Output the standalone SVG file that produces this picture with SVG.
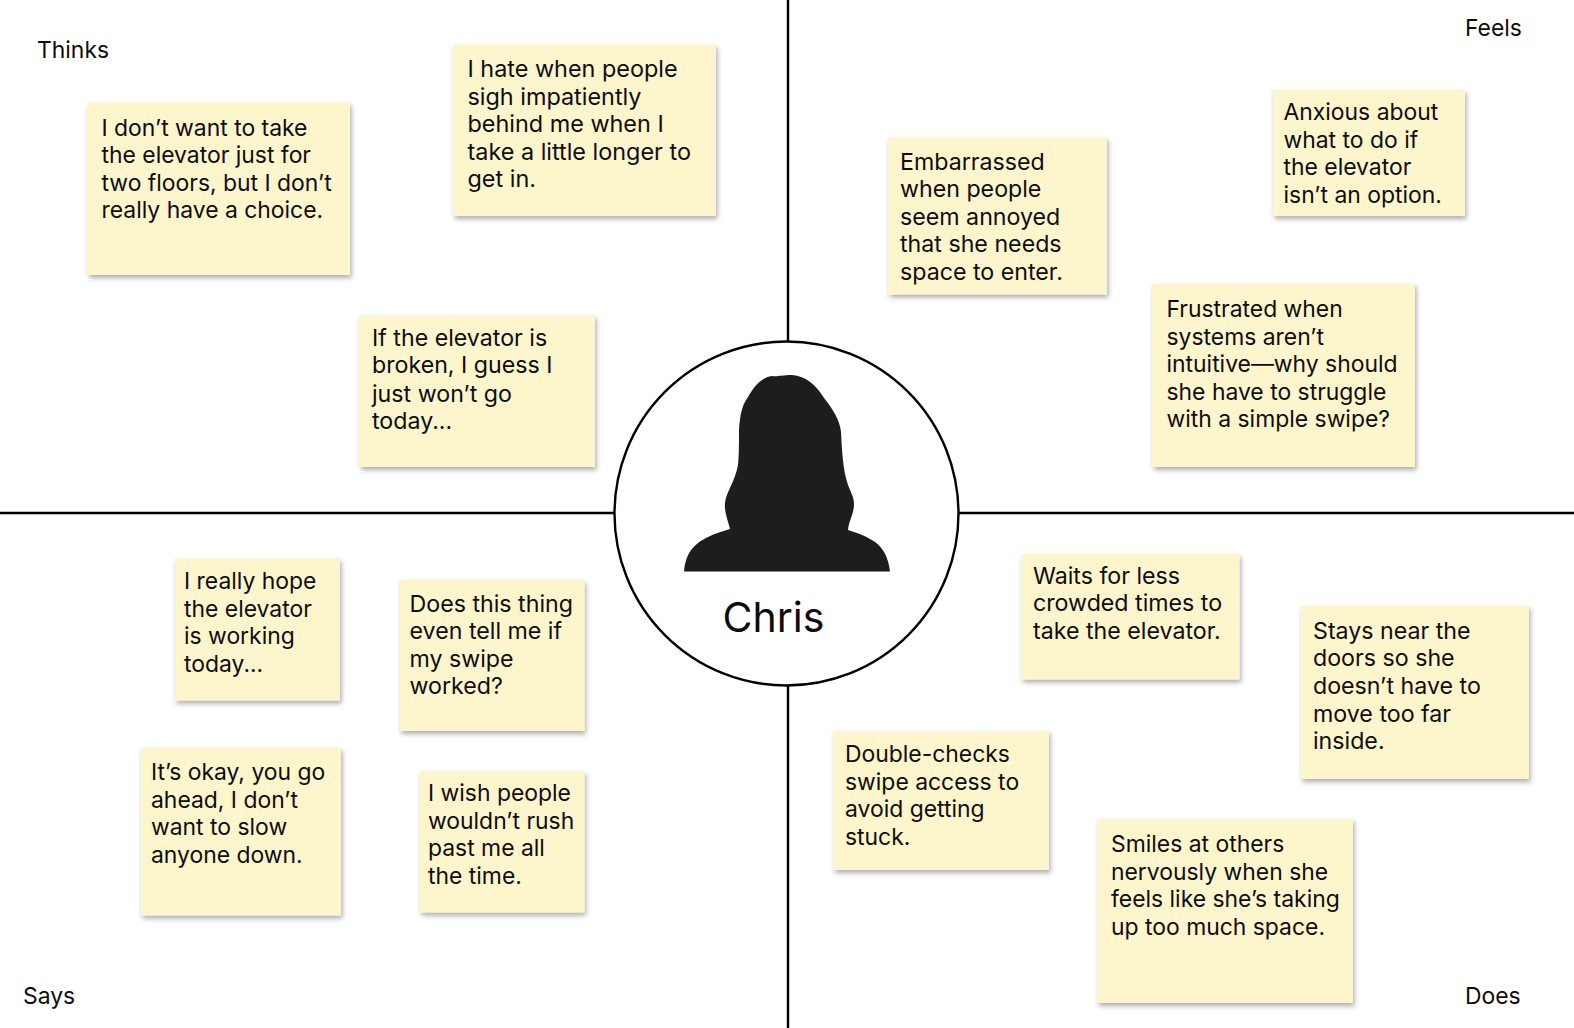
<svg xmlns="http://www.w3.org/2000/svg" width="1574" height="1028" viewBox="0 0 1574 1028">
<style>
text{font-family:Inter,"Liberation Sans",sans-serif;fill:#0d0d0d;font-size:22.9px}
.n{fill:#fdf5cb;filter:url(#s)}
.l{stroke:#000;stroke-width:2.4;fill:none}
.a{font-size:23.4px}
.b{font-size:23.2px}
</style>
<defs><filter id="s" x="-10%" y="-10%" width="125%" height="125%"><feDropShadow dx="1.500" dy="3" stdDeviation="2.500" flood-color="#000" flood-opacity=".32"/></filter></defs>
<rect width="1574" height="1028" fill="#fff"/>
<g id="connectors">
<path class="l" d="M788 0V342M788 685V1028M0 513H614M959 513H1574"/>
</g>
<g id="center">
<circle class="l" cx="786.5" cy="513.5" r="172" fill="#fff"/>
<path fill="#1d1d1b" d="M684 571.500C686 552 694 544 708 537C716 533 724 531 730 529C728 520 724 512 725 503C726 492 735 482 738 465C739 455 739 445 739 430C740 412 743 404 748 397C754 386 762 377 772 376C777 377 781 375 792 375C806 376 816 385 824 398C832 408 840 420 841 432C842 452 843 470 848 485C851 493 854 497 854 504C854 514 849 520 848 530C858 533 868 537 875 542C883 548 888 556 890 571.500Z"/>
<text x="722.500" y="632" style="font-size:41px">Chris</text>
</g>
<g id="labels">
<text x="37" y="58">Thinks</text><text x="1465" y="36">Feels</text><text x="23" y="1003.500">Says</text><text x="1465" y="1003.500">Does</text>
</g>
<g id="n1"><rect class="n" x="87.500" y="102.500" width="262.500" height="172.500"/><text x="101.500" y="135.500">I don’t want to take</text><text x="101.500" y="163">the elevator just for</text><text x="101.500" y="191">two floors, but I don’t</text><text x="101.500" y="218">really have a choice.</text></g>
<g id="n2"><rect class="n" x="453.500" y="44.500" width="262.500" height="171.500"/><text class="a" x="467.500" y="77">I hate when people</text><text class="a" x="467.500" y="104.500">sigh impatiently</text><text class="a" x="467.500" y="132">behind me when I</text><text class="a" x="467.500" y="160">take a little longer to</text><text class="a" x="467.500" y="187">get in.</text></g>
<g id="n3"><rect class="n" x="359.500" y="315" width="235.500" height="152"/><text class="b" x="372" y="345.500">If the elevator is</text><text class="b" x="372" y="373">broken, I guess I</text><text class="b" x="372" y="401.500">just won’t go</text><text class="b" x="372" y="428.500">today...</text></g>
<g id="n4"><rect class="n" x="888.500" y="137.500" width="218.500" height="157"/><text class="b" x="900" y="169.500">Embarrassed</text><text class="b" x="900" y="197">when people</text><text class="b" x="900" y="224.500">seem annoyed</text><text class="b" x="900" y="252">that she needs</text><text class="b" x="900" y="280">space to enter.</text></g>
<g id="n5"><rect class="n" x="1273" y="90" width="192" height="126"/><text x="1283.500" y="120">Anxious about</text><text x="1283.500" y="147.500">what to do if</text><text x="1283.500" y="175">the elevator</text><text x="1283.500" y="202.500">isn’t an option.</text></g>
<g id="n6"><rect class="n" x="1152.500" y="283.500" width="262.500" height="183.500"/><text x="1166.500" y="317">Frustrated when</text><text x="1166.500" y="345">systems aren’t</text><text x="1166.500" y="372">intuitive—why should</text><text x="1166.500" y="400">she have to struggle</text><text x="1166.500" y="427">with a simple swipe?</text></g>
<g id="n7"><rect class="n" x="175" y="558.500" width="165" height="142"/><text x="184" y="588.500">I really hope</text><text x="184" y="616.500">the elevator</text><text x="184" y="644">is working</text><text x="184" y="671.500">today...</text></g>
<g id="n8"><rect class="n" x="400" y="580" width="184.500" height="151"/><text class="b" x="409.500" y="611.500">Does this thing</text><text class="b" x="409.500" y="639">even tell me if</text><text class="b" x="409.500" y="667">my swipe</text><text class="b" x="409.500" y="694">worked?</text></g>
<g id="n9"><rect class="n" x="141" y="747.500" width="200" height="168"/><text x="151" y="780">It’s okay, you go</text><text x="151" y="807.500">ahead, I don’t</text><text x="151" y="835">want to slow</text><text x="151" y="862.500">anyone down.</text></g>
<g id="n10"><rect class="n" x="420" y="771" width="164.500" height="141.500"/><text x="428" y="800.500">I wish people</text><text x="428" y="828.500">wouldn’t rush</text><text x="428" y="856">past me all</text><text x="428" y="883.500">the time.</text></g>
<g id="n11"><rect class="n" x="1021.500" y="554" width="218" height="125.500"/><text class="b" x="1033" y="584">Waits for less</text><text class="b" x="1033" y="611">crowded times to</text><text class="b" x="1033" y="639">take the elevator.</text></g>
<g id="n12"><rect class="n" x="1301" y="606" width="228" height="173"/><text class="b" x="1313" y="638.500">Stays near the</text><text class="b" x="1313" y="666">doors so she</text><text class="b" x="1313" y="693.500">doesn’t have to</text><text class="b" x="1313" y="721.500">move too far</text><text class="b" x="1313" y="749">inside.</text></g>
<g id="n13"><rect class="n" x="833.500" y="731" width="215.500" height="139"/><text x="845" y="762">Double-checks</text><text x="845" y="790">swipe access to</text><text x="845" y="817">avoid getting</text><text x="845" y="845">stuck.</text></g>
<g id="n14"><rect class="n" x="1097.500" y="819" width="255.500" height="184"/><text x="1111" y="852">Smiles at others</text><text x="1111" y="880">nervously when she</text><text x="1111" y="907">feels like she’s taking</text><text x="1111" y="935">up too much space.</text></g>
</svg>
